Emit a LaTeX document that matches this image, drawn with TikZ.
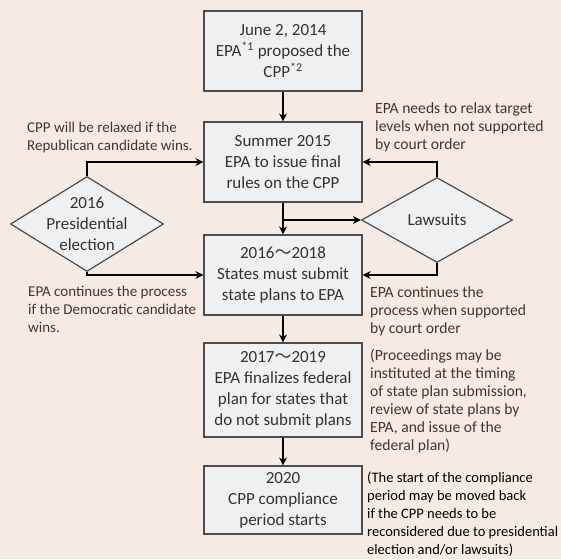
\documentclass[tikz,border=0pt]{standalone}
\usepackage{fontspec}
\setmainfont{Carlito}
\newfontfamily\cjk{Noto Sans CJK JP}
\usetikzlibrary{shapes.geometric,arrows.meta,shadows}
\definecolor{paper}{RGB}{245,234,228}
\definecolor{boxfill}{RGB}{238,240,242}
\definecolor{boxline}{RGB}{77,77,77}
\definecolor{notebrown}{RGB}{74,52,40}

\begin{document}
\begin{tikzpicture}[x=1pt,y=-1pt,
	stage/.style={rectangle,draw=boxline,fill=boxfill,line width=1.2pt,minimum width=158pt,align=center,inner sep=0pt,font=\fontsize{17}{21}\selectfont,text=black!80,drop shadow={shadow xshift=1.2pt,shadow yshift=-1.2pt,opacity=.35}},
	choice/.style={diamond,draw=boxline,fill=boxfill,line width=1.2pt,inner sep=0pt},
	note/.style={anchor=west,align=left,inner sep=0pt,font=\fontsize{15.6}{18}\selectfont,text=notebrown},
	leftnote/.style={note,font=\fontsize{15}{18}\selectfont},
	flow/.style={-{Stealth[length=8pt,width=8pt]},line width=1.6pt}]
	
	\fill[paper] (0,0) rectangle (561,559);
	\useasboundingbox (0,0) rectangle (561,559);
	
	% main boxes
	\node[stage,minimum height=80pt] (jun) at (283,51) {June 2, 2014\\EPA\textsuperscript{*1} proposed the\\CPP\textsuperscript{*2}};
	\node[stage,minimum height=80pt] (sum) at (283,162) {Summer 2015\\EPA to issue final\\rules on the CPP};
	\node[stage,minimum height=80pt] (sub) at (283,275) {2016{\cjk ～}2018\\States must submit\\state plans to EPA};
	\node[stage,minimum height=94pt] (fed) at (283,390) {2017{\cjk ～}2019\\EPA finalizes federal\\plan for states that\\do not submit plans};
	\node[stage,minimum height=68pt] (cmp) at (283,500) {2020\\CPP compliance\\period starts};
	
	% decisions
	\node[choice,minimum width=153pt,minimum height=95pt,label={[align=center,font=\fontsize{17}{21}\selectfont,text=black!80]center:2016\\Presidential\\election}] (ele) at (87,224) {};
	\node[choice,minimum width=151pt,minimum height=85pt,label={[font=\fontsize{17}{21}\selectfont,text=black!80]center:Lawsuits}] (law) at (437,220) {};
	
	% notes
	\node[leftnote] (rep) at (27,137) {CPP will be relaxed if the\\Republican candidate wins.};
	\node[note] (lrx) at (375,127) {EPA needs to relax target\\levels when not supported\\by court order};
	\node[leftnote] (dem) at (28,309) {EPA continues the process\\if the Democratic candidate\\wins.};
	\node[note] (lco) at (370,311) {EPA continues the\\process when supported\\by court order};
	\node[note] (pro) at (370,401) {(Proceedings may be\\instituted at the timing\\of state plan submission,\\review of state plans by\\EPA, and issue of the\\federal plan)};
	\node[note,text=black,font=\fontsize{14.5}{18}\selectfont] (mov) at (367,514) {(The start of the compliance\\period may be moved back\\if the CPP needs to be\\reconsidered due to presidential\\election and/or lawsuits)};
	
	% arrows
	\draw[flow] (jun) -- (sum);
	\draw[flow] (sum) -- (sub);
	\draw[flow] (sum.south |- law.west) -- (law.west);
	\draw[flow] (sub) -- (fed);
	\draw[flow] (fed) -- (cmp);
	\draw[flow] (ele.north) |- (sum.west);
	\draw[flow] (law.north) |- (sum.east);
	\draw[flow] (ele.south) |- (sub.west);
	\draw[flow] (law.south) |- (sub.east);
\end{tikzpicture}
\end{document}
